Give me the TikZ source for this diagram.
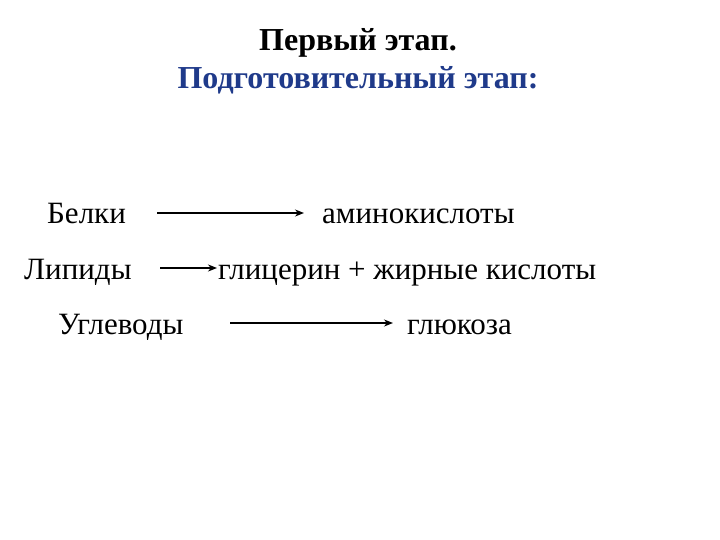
\documentclass[tikz,border=0pt]{standalone}
\usepackage{fontspec}
\setmainfont{Liberation Serif}
\usetikzlibrary{arrows.meta}
\definecolor{navy}{HTML}{1F3A8A}
\begin{document}
\begin{tikzpicture}[x=1pt,y=-1pt,
  lbl/.style={font=\fontsize{31}{36}\selectfont,inner sep=0pt,anchor=base west},
  ttl/.style={font=\fontsize{32}{36}\selectfont\bfseries,inner sep=0pt,anchor=base},
  arr/.style={line width=1.8pt,-{Stealth[length=9pt,width=7pt]}}]
\useasboundingbox (0,0) rectangle (720,540);
\node[ttl] (t1) at (358,51) {Первый этап.};
\node[ttl,text=navy] (t2) at (358,89) {Подготовительный этап:};
\node[lbl] (b) at (47,224) {Белки};
\node[lbl] (a) at (322,224) {аминокислоты};
\node[lbl] (l) at (24,279) {Липиды};
\node[lbl] (g) at (218,279) {глицерин + жирные кислоты};
\node[lbl] (u) at (58,334) {Углеводы};
\node[lbl] (gl) at (407,334) {глюкоза};
\coordinate (s1) at (157,213); \coordinate (e1) at (304,213);
\coordinate (s2) at (160,268); \coordinate (e2) at (217,268);
\coordinate (s3) at (230,323); \coordinate (e3) at (393,323);
\draw[arr] (s1) -- (e1);
\draw[arr] (s2) -- (e2);
\draw[arr] (s3) -- (e3);
\end{tikzpicture}
\end{document}
